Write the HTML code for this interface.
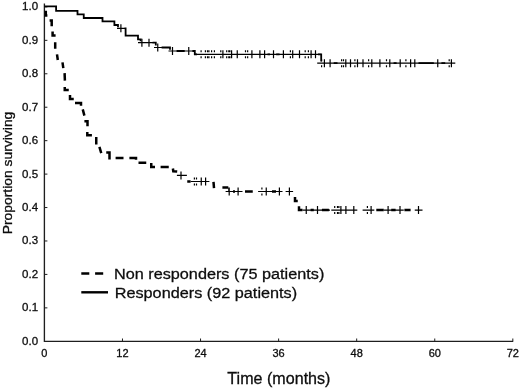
<!DOCTYPE html>
<html><head><meta charset="utf-8"><title>Survival</title>
<style>html,body{margin:0;padding:0;background:#fff}svg{display:block}text{font-family:"Liberation Sans",Arial,sans-serif;fill:#0d0d0d;stroke:#0d0d0d;stroke-width:0.3px}</style></head><body>
<svg width="520" height="388" viewBox="0 0 520 388">
<rect width="520" height="388" fill="#fff"/>
<g stroke="#1e1e1e" stroke-width="1.35" fill="none">
<path d="M44.4,3.5V341.3H513.2"/>
<path d="M44.4,307.86h3M44.4,274.42h3M44.4,240.98h3M44.4,207.54h3M44.4,174.10h3M44.4,140.66h3M44.4,107.22h3M44.4,73.78h3M44.4,40.34h3M44.4,6.90h3M122.47,341.3v-2.8M200.54,341.3v-2.8M278.61,341.3v-2.8M356.68,341.3v-2.8M434.75,341.3v-2.8M512.82,341.3v-2.8" stroke-width="1"/>
</g>
<g font-size="11.5" text-anchor="end">
<text x="38.1" y="344.70">0.0</text>
<text x="38.1" y="311.26">0.1</text>
<text x="38.1" y="277.82">0.2</text>
<text x="38.1" y="244.38">0.3</text>
<text x="38.1" y="210.94">0.4</text>
<text x="38.1" y="177.50">0.5</text>
<text x="38.1" y="144.06">0.6</text>
<text x="38.1" y="110.62">0.7</text>
<text x="38.1" y="77.18">0.8</text>
<text x="38.1" y="43.74">0.9</text>
<text x="38.1" y="10.30">1.0</text>
</g>
<g font-size="11" text-anchor="middle">
<text x="44.40" y="357.4">0</text>
<text x="122.47" y="357.4">12</text>
<text x="200.54" y="357.4">24</text>
<text x="278.61" y="357.4">36</text>
<text x="356.68" y="357.4">48</text>
<text x="434.75" y="357.4">60</text>
<text x="512.82" y="357.4">72</text>
</g>
<text transform="translate(278.9,383.9) scale(1,1.05)" font-size="16.1" text-anchor="middle">Time (months)</text>
<text transform="translate(11.5,173.0) rotate(-90) scale(1.12,1)" font-size="12.4" text-anchor="middle">Proportion surviving</text>
<text transform="translate(113.9,279.2) scale(1,0.94)" font-size="16.25">Non responders (75 patients)</text>
<text transform="translate(114.7,298.1) scale(1,0.94)" font-size="16.25">Responders (92 patients)</text>
<g stroke="#000" stroke-width="2.5" fill="none"><path d="M81.3,273.6H89.3M95.1,273.6H103.2"/><path d="M81.3,292.3H108" stroke-width="2.4"/></g>
<path d="M117,28.3H125M138,42.7H153M154,47.5H162M168.5,51H177M184.5,51H193M195,54.3 H321.2M317.2,63.2 H455.3M120.9,24.3v8.0M141.9,38.7v8.0M149,38.7v8.0M157.75,43.5v8.0M172.5,47.0v8.0M188.75,47.0v8.0M222.9,50.3v8.0M231.6,50.3v8.0M237.25,50.3v8.0M251.9,50.3v8.0M259.9,50.3v8.0M264.6,50.3v8.0M273.5,50.3v8.0M283.4,50.3v8.0M292.7,50.3v8.0M299.5,50.3v8.0M311.1,50.3v8.0M315.5,50.3v8.0M201.1,50.3v2M201.1,56.3v2M205.4,50.3v2M205.4,56.3v2M207.5,50.3v2M207.5,56.3v2M208.9,50.3v2M208.9,56.3v2M211.6,50.3v2M211.6,56.3v2M214.4,50.3v2M214.4,56.3v2M220.8,50.3v2M220.8,56.3v2M226.7,50.3v2M226.7,56.3v2M228.8,50.3v2M228.8,56.3v2M229.9,50.3v2M229.9,56.3v2M245.5,50.3v2M245.5,56.3v2M247.65,50.3v2M247.65,56.3v2M290.4,50.3v2M290.4,56.3v2M305.2,50.3v2M305.2,56.3v2M308.4,50.3v2M308.4,56.3v2M324.4,59.2v8.0M330.1,59.2v8.0M345.8,59.2v8.0M350.5,59.2v8.0M357.5,59.2v8.0M363,59.2v8.0M371.8,59.2v8.0M379.9,59.2v8.0M389.8,59.2v8.0M400.2,59.2v8.0M410.6,59.2v8.0M414.8,59.2v8.0M437.75,59.2v8.0M451.4,59.2v8.0M321.6,59.2v2M321.6,65.2v2M341.6,59.2v2M341.6,65.2v2M343.5,59.2v2M343.5,65.2v2M354.9,59.2v2M354.9,65.2v2M368.6,59.2v2M368.6,65.2v2M386.5,59.2v2M386.5,65.2v2M405.9,59.2v2M405.9,65.2v2M449.2,59.2v2M449.2,65.2v2" stroke="#000" stroke-width="1.2" fill="none"/>
<path d="M44.5,6.4H56.1V10.8H77.5V14.3H83.75V18H102.5V21.4H114.4V25H118V27.2M124.6,28.3H125.6V35.7H138V39.4H140.6V41.2M152.6,42.7H155.8V45.6M161.6,47.5H170V49.8M176.6,51H184.8M192.4,51H194.8V54.3 H197M267.5,54.3 H270M276.2,54.3 H279.6M318,54.3 H321.2V61.5M333.7,63.2 H337.5M393.6,63.2 H396.6M418.5,63.2 H433.8M441.4,63.2 H445.2" stroke="#000" stroke-width="1.8" fill="none"/>
<path d="M45.8,10.8V15.6H47.4M49.6,20.6H51.7V26.3M52.6,31.4V35.6H55.6M55.2,42.3V48.8M57,54.4L57.8,60M62.5,62.3L63.3,68.1M64.6,73.1L64.9,80.6M64.75,86.9V90H68.75M70,95V99H73.75M75,103.1H81V105.8M82.75,109.4L84.4,115.6M84.4,121.2H87.5V126.3M87.3,131.9V135.2H91.9M96.25,136.9V144.4M99.4,146.9L101.25,153.1M106.25,152.6H109.5V159.4M115.6,158.1H123.5M129.4,158.1H136V159.8M138.5,162.75H146.25M151.25,163.1V167.1H155M160.6,166.9H168.75M172.9,168.5L173.3,171.3L177.2,171.6M187.25,181.5H190.6M213.5,181.9L214,188.1M222.4,187.4H228.3M233,191.5H235M245,191.5H252.75M272,191.5H276M295,196.9V201.1H297.75M299,206.25V210.1H302.5M310.6,210.1H313.75M321.9,210.1H328.9M376.3,210.1H383.75M391.25,210.1H395.6M404.4,210.1H410.6" stroke="#000" stroke-width="2.5" fill="none"/>
<path d="M176.9,175.4H186.9M190.6,181.5H209.4M225.6,191.5H242.5M258.1,191.5H282.5M285.6,191.5H293.1M302.5,210.1H330M331.3,210.1H357.3M362.6,210.1H374.3M383.75,210.1H403.75M414.75,210.1H422.5M228.8,187.4V191.5M181,171.4v8.0M201.25,177.5v8.0M205.6,177.5v8.0M229.2,187.5v8.0M238.1,187.5v8.0M266.25,187.5v8.0M279.4,187.5v8.0M289.4,187.5v8.0M306.25,206.1v8.0M317.5,206.1v8.0M340.9,206.1v8.0M345.9,206.1v8.0M353.8,206.1v8.0M371.1,206.1v8.0M388.1,206.1v8.0M400,206.1v8.0M418.5,206.1v8.0M194.4,177.5v2M194.4,183.5v2M196.5,177.5v2M196.5,183.5v2M261.9,187.5v2M261.9,193.5v2M334.7,206.1v2M334.7,212.1v2M337.5,206.1v2M337.5,212.1v2M338.9,206.1v2M338.9,212.1v2M367.4,206.1v2M367.4,212.1v2" stroke="#000" stroke-width="1.2" fill="none"/>
</svg></body></html>
